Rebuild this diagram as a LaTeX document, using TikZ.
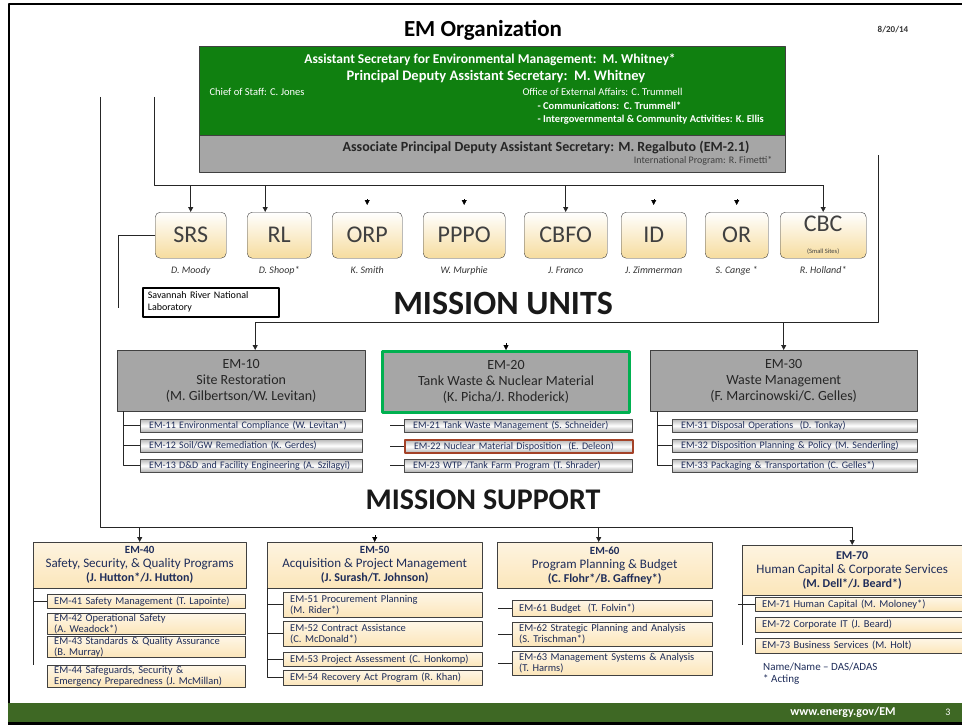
\documentclass[tikz,border=0pt]{standalone}
\usepackage{fontspec}
\setmainfont{Carlito}
\usetikzlibrary{arrows.meta,calc}
\definecolor{emgreen}{RGB}{16,128,16}
\definecolor{emgray}{RGB}{166,166,166}
\definecolor{cream}{RGB}{252,230,186}
\definecolor{unitfill}{RGB}{246,220,158}
\definecolor{navy}{RGB}{31,45,90}
\definecolor{bargreen}{RGB}{0,176,80}
\definecolor{brick}{RGB}{164,66,40}
\definecolor{footgreen}{RGB}{62,104,36}
\begin{document}
\begin{tikzpicture}[x=1pt, y=-1pt, line join=round,
    box/.style={draw=black!75, inner sep=0pt, anchor=north west},
    unit/.style={box, rounded corners=5pt, top color=white, bottom color=unitfill, align=center, text=black!75, font=\fontsize{24}{24}\selectfont},
    who/.style={text=black!80, font=\fontsize{10}{10}\selectfont\itshape},
    office/.style={box, fill=emgray, align=center, text=black!85, font=\fontsize{14}{16}\selectfont},
    subbar/.style={draw=black!70, anchor=north west, minimum height=13, inner xsep=9pt, inner ysep=0pt, top color=black!28, bottom color=black!32, middle color=white, align=left, text=navy, font=\fontsize{10}{11}\selectfont},
    support/.style={box, top color=cream!45, bottom color=cream, align=center, text=navy, font=\fontsize{13}{14}\selectfont},
    subsup/.style={draw=black!75, anchor=north west, inner xsep=7pt, inner ysep=0pt, top color=cream!35, bottom color=cream, align=left, text=navy, font=\fontsize{10.5}{11}\selectfont},
    arr/.style={-{Triangle[length=5pt,width=5pt]}},
    bus/.style={draw=black!85, line width=0.8pt}]
\useasboundingbox (0,0) rectangle (962,725);

% frame and footer
\draw[line width=2pt] (9,725) -- (9,4) -- (962,4);
\fill[footgreen] (8,703) rectangle (962,722);
\fill[black] (8,722) rectangle (962,725);
\node[text=white, font=\fontsize{12}{12}\selectfont\bfseries] (web) at (843,712) {www.energy.gov/EM};
\node[text=white, font=\fontsize{10}{10}\selectfont] (page) at (948,712) {3};

% heading
\node[font=\fontsize{23}{23}\selectfont\bfseries] (title) at (483,30) {EM Organization};
\node[font=\fontsize{9}{9}\selectfont\bfseries, text=black!80] (date) at (893,30) {8/20/14};

% front office
\node[box, fill=emgreen, minimum width=586, minimum height=89] (as) at (199,46) {};
\node[box, fill=emgray, minimum width=586, minimum height=37] (apdas) at (199,135) {};
\node[text=white, font=\fontsize{13.5}{14}\selectfont\bfseries] (asline) at (490,60) {Assistant Secretary for Environmental Management:\ \ M. Whitney*};
\node[text=white, font=\fontsize{14.5}{15}\selectfont\bfseries] (pdasline) at (496,77) {Principal Deputy Assistant Secretary:\ \ M. Whitney};
\node[text=white, anchor=west, font=\fontsize{10.5}{11}\selectfont] (cos) at (206,92) {Chief of Staff: C. Jones};
\node[text=white, anchor=west, font=\fontsize{10.5}{11}\selectfont] (oea) at (519,92) {Office of External Affairs: C. Trummell};
\node[text=white, anchor=west, font=\fontsize{10.5}{11}\selectfont\bfseries] (comm) at (534,106) {- Communications:\ \ C. Trummell*};
\node[text=white, anchor=west, font=\fontsize{10.5}{11}\selectfont\bfseries] (igca) at (534,120) {- Intergovernmental \& Community Activities: K. Ellis};
\node[text=black!85, font=\fontsize{14}{15}\selectfont\bfseries] (apdasline) at (546,147) {Associate Principal Deputy Assistant Secretary: M. Regalbuto (EM-2.1)};
\node[text=black!75, anchor=east, font=\fontsize{10}{11}\selectfont] (intl) at (776,161) {International Program: R. Fimetti*};

% mission units
\node[unit, minimum width=71, minimum height=46] (srs) at (155,212) {SRS};
\node[unit, minimum width=64, minimum height=46] (rl) at (247,212) {RL};
\node[unit, minimum width=70, minimum height=46] (orp) at (332,212) {ORP};
\node[unit, minimum width=82, minimum height=46] (pppo) at (423,212) {PPPO};
\node[unit, minimum width=83, minimum height=46] (cbfo) at (524,212) {CBFO};
\node[unit, minimum width=65, minimum height=46] (id) at (621,212) {ID};
\node[unit, minimum width=63, minimum height=46] (or) at (705,212) {OR};
\node[unit, minimum width=86, minimum height=46] (cbc) at (780,212) {CBC\\[-2pt]{\fontsize{6.5}{7}\selectfont(Small Sites)}};

\node[who] (srsname) at ($(srs.south)+(0,12)$) {D. Moody};
\node[who] (rlname) at ($(rl.south)+(0,12)$) {D. Shoop*};
\node[who] (orpname) at ($(orp.south)+(0,12)$) {K. Smith};
\node[who] (ppponame) at ($(pppo.south)+(0,12)$) {W. Murphie};
\node[who] (cbfoname) at ($(cbfo.south)+(0,12)$) {J. Franco};
\node[who] (idname) at ($(id.south)+(0,12)$) {J. Zimmerman};
\node[who] (orname) at ($(or.south)+(0,12)$) {S. Cange *};
\node[who] (cbcname) at ($(cbc.south)+(0,12)$) {R. Holland*};

\node[draw, line width=1.6pt, anchor=north west, minimum width=136, minimum height=29, text width=126, inner xsep=5pt, inner ysep=0pt, align=left, font=\fontsize{10}{12}\selectfont] (srnl) at (142,287) {Savannah River National\\Laboratory};

\node[font=\fontsize{34}{34}\selectfont\bfseries, text=black!90] (units) at (503,303) {MISSION UNITS};

% headquarters offices
\node[office, minimum width=248, minimum height=61] (em10) at (117,350) {EM-10\\Site Restoration\\(M. Gilbertson/W. Levitan)};
\node[office, draw=bargreen, line width=3pt, minimum width=247, minimum height=61] (em20) at (381,350) {EM-20\\Tank Waste \& Nuclear Material\\(K. Picha/J. Rhoderick)};
\node[office, minimum width=267, minimum height=61] (em30) at (650,350) {EM-30\\Waste Management\\(F. Marcinowski/C. Gelles)};

\node[subbar, text width=204] (em11) at (140,419) {EM-11 Environmental Compliance (W. Levitan*)};
\node[subbar, text width=204] (em12) at (140,439) {EM-12 Soil/GW Remediation (K. Gerdes)};
\node[subbar, text width=204] (em13) at (140,459) {EM-13 D\&D and Facility Engineering (A. Szilagyi)};
\node[subbar, text width=210] (em21) at (404,419) {EM-21 Tank Waste Management (S. Schneider)};
\node[subbar, draw=brick, line width=2pt, text width=210] (em22) at (404,439) {EM-22 Nuclear Material Disposition\ \ (E. Deleon)};
\node[subbar, text width=210] (em23) at (404,459) {EM-23 WTP /Tank Farm Program (T. Shrader)};
\node[subbar, text width=227] (em31) at (672,419) {EM-31 Disposal Operations\ \ (D. Tonkay)};
\node[subbar, text width=227] (em32) at (672,439) {EM-32 Disposition Planning \& Policy (M. Senderling)};
\node[subbar, text width=227] (em33) at (672,459) {EM-33 Packaging \& Transportation (C. Gelles*)};

\node[font=\fontsize{30}{30}\selectfont\bfseries, text=black!90] (support) at (483,500) {MISSION SUPPORT};

% mission support offices
\node[support, minimum width=213, minimum height=46] (em40) at (33,542) {{\fontsize{11}{12}\selectfont\bfseries EM-40}\\Safety, Security, \& Quality Programs\\{\fontsize{12}{13}\selectfont\bfseries (J. Hutton*/J. Hutton)}};
\node[support, minimum width=215, minimum height=46] (em50) at (267,542) {{\fontsize{11}{12}\selectfont\bfseries EM-50}\\Acquisition \& Project Management\\{\fontsize{12}{13}\selectfont\bfseries (J. Surash/T. Johnson)}};
\node[support, minimum width=215, minimum height=46] (em60) at (497,542) {{\fontsize{11}{12}\selectfont\bfseries EM-60}\\Program Planning \& Budget\\{\fontsize{12}{13}\selectfont\bfseries (C. Flohr*/B. Gaffney*)}};
\node[support, minimum width=220, minimum height=50] (em70) at (742,545) {{\fontsize{12}{13}\selectfont\bfseries EM-70}\\Human Capital \& Corporate Services\\{\fontsize{12}{13}\selectfont\bfseries (M. Dell*/J. Beard*)}};

\node[subsup, text width=184, minimum height=14] (em41) at (47,594) {EM-41 Safety Management (T. Lapointe)};
\node[subsup, text width=184, minimum height=21] (em42) at (47,613) {EM-42 Operational Safety\\(A. Weadock*)};
\node[subsup, text width=184, minimum height=21] (em43) at (47,636) {EM-43 Standards \& Quality Assurance\\(B. Murray)};
\node[subsup, text width=184, minimum height=22] (em44) at (47,665) {EM-44 Safeguards, Security \&\\Emergency Preparedness (J. McMillan)};
\node[subsup, text width=185, minimum height=25] (em51) at (283,592) {EM-51 Procurement Planning\\(M. Rider*)};
\node[subsup, text width=185, minimum height=25] (em52) at (283,621) {EM-52 Contract Assistance\\(C. McDonald*)};
\node[subsup, text width=185, minimum height=14] (em53) at (283,652) {EM-53 Project Assessment (C. Honkomp)};
\node[subsup, text width=185, minimum height=15] (em54) at (283,670) {EM-54 Recovery Act Program (R. Khan)};
\node[subsup, text width=186, minimum height=16] (em61) at (512,600) {EM-61 Budget\ \ (T. Folvin*)};
\node[subsup, text width=186, minimum height=24] (em62) at (512,622) {EM-62 Strategic Planning and Analysis\\(S. Trischman*)};
\node[subsup, text width=186, minimum height=24] (em63) at (512,651) {EM-63 Management Systems \& Analysis\\(T. Harms)};
\node[subsup, text width=193, minimum height=14] (em71) at (755,597) {EM-71 Human Capital (M. Moloney*)};
\node[subsup, text width=193, minimum height=15] (em72) at (755,617) {EM-72 Corporate IT (J. Beard)};
\node[subsup, text width=193, minimum height=15] (em73) at (755,638) {EM-73 Business Services (M. Holt)};

\node[anchor=north west, align=left, inner sep=0pt, text=navy, font=\fontsize{11}{12}\selectfont] (legend) at (763,663) {Name/Name -- DAS/ADAS\\* Acting};

% lines to the mission units
\coordinate (mutop) at (154,97);
\coordinate (mucorner) at (154,185);
\coordinate (rlin) at ($(rl.north)+(-14,0)$);
\draw[bus] (mutop) -- (mucorner) -- (cbc.north |- mucorner);
\draw[bus,arr] (srs.north |- mucorner) -- (srs.north);
\draw[bus,arr] (rlin |- mucorner) -- (rlin);
\draw[bus,arr] (cbfo.north |- mucorner) -- (cbfo.north);
\draw[bus,arr] (cbc.north |- mucorner) -- (cbc.north);
\draw[arr] ($(orp.north)+(0,-13)$) -- ($(orp.north)+(0,-7)$);
\draw[arr] ($(pppo.north)+(0,-13)$) -- ($(pppo.north)+(0,-7)$);
\draw[arr] ($(id.north)+(0,-13)$) -- ($(id.north)+(0,-7)$);
\draw[arr] ($(or.north)+(0,-13)$) -- ($(or.north)+(0,-7)$);
\coordinate (srsdown) at (118,308);
\draw[bus] (srs.west) -- (srs.west -| srsdown) -- (srsdown);

% lines to the headquarters offices
\coordinate (rbtop) at (878,155);
\coordinate (rbbot) at (878,322);
\coordinate (em10in) at ($(em10.north)+(14,0)$);
\draw[bus] (rbtop) -- (rbbot) -- (em10in |- rbbot);
\draw[bus,arr] (em10in |- rbbot) -- (em10in);
\draw[bus,arr] (em30.north |- rbbot) -- (em30.north);
\draw[arr] ($(em20.north)+(0,-7)$) -- (em20.north);
\coordinate (b10) at (123,0);
\draw[bus] (em10.south -| b10) -- (em13.west -| b10) -- (em13.west);
\draw[bus] (em11.west -| b10) -- (em11.west);
\draw[bus] (em12.west -| b10) -- (em12.west);
\draw[bus] ($(em21.west)+(-14,0)$) -- (em21.west);
\draw[bus] ($(em22.west)+(-14,0)$) -- (em22.west);
\draw[bus] ($(em23.west)+(-14,0)$) -- (em23.west);
\coordinate (b30) at (657,0);
\draw[bus] (em30.south -| b30) -- (em33.west -| b30) -- (em33.west);
\draw[bus] (em31.west -| b30) -- (em31.west);
\draw[bus] (em32.west -| b30) -- (em32.west);

% lines to mission support
\coordinate (lbtop) at (100,97);
\coordinate (lbbot) at (100,527);
\coordinate (em60in) at ($(em60.north)+(-6,0)$);
\draw[bus] (lbtop) -- (lbbot) -- (em70.north |- lbbot);
\draw[bus,arr] (em40.north |- lbbot) -- (em40.north);
\draw[bus,arr] (em60in |- lbbot) -- (em60in);
\draw[bus,arr] (em70.north |- lbbot) -- (em70.north);
\draw[arr] ($(em50.north)+(0,-7)$) -- (em50.north);
\coordinate (b40) at (33,665);
\draw[bus] (em40.south west) -- (b40);
\draw[bus] (em41.west -| b40) -- (em41.west);
\coordinate (b50) at (267,0);
\draw[bus] (em50.south west) -- (em54.west -| b50) -- (em54.west);
\draw[bus] (em51.west -| b50) -- (em51.west);
\draw[bus] (em52.west -| b50) -- (em52.west);
\draw[bus] (em53.west -| b50) -- (em53.west);
\draw[bus] ($(em61.west)+(-14,0)$) -- (em61.west);
\draw[bus] ($(em62.west)+(-14,0)$) -- (em62.west);
\draw[bus] ($(em63.west)+(-14,0)$) -- (em63.west);
\coordinate (b70) at (742,645);
\draw[bus] (em70.south west) -- (b70);
\draw[bus] ($(em71.west -| b70)+(-4,0)$) -- (em71.west);
\end{tikzpicture}
\end{document}
